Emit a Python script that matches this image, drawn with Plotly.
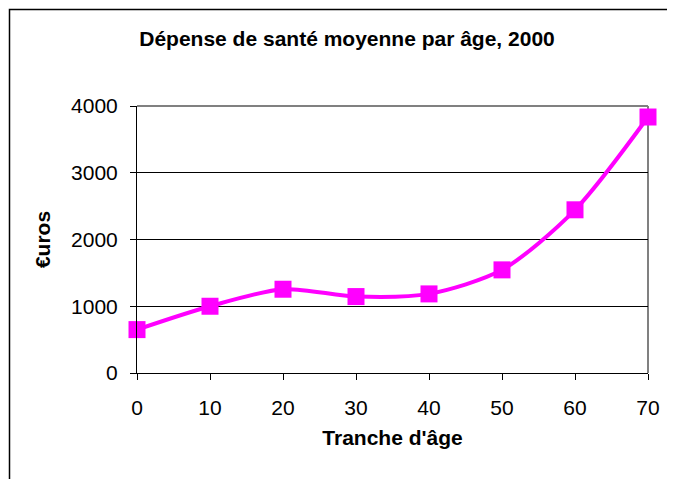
import plotly.graph_objects as go

ages = [0, 10, 20, 30, 40, 50, 60, 70]
depense = [650, 1000, 1255, 1145, 1185, 1545, 2445, 3835]
y_ticks = [0, 1000, 2000, 3000, 4000]

W, H = 675, 479
L, R, T, B = 129, 35, 98, 114
pw, ph = W - L - R, H - T - B

def px_x(p):
    return (p - L) / pw

def px_y(p):
    return (H - B - p) / ph

fig = go.Figure()
fig.add_trace(go.Scatter(
    x=ages, y=depense, mode="lines+markers",
    line=dict(color="#FF00FF", width=4, shape="spline", smoothing=0.8),
    marker=dict(symbol="square", size=17, color="#FF00FF"),
    cliponaxis=False, showlegend=False,
))

font = "Liberation Sans, Arial, sans-serif"
fig.update_layout(
    width=W, height=H,
    margin=dict(l=L, r=R, t=T, b=B),
    paper_bgcolor="white", plot_bgcolor="white",
    font=dict(family=font, size=21, color="black"),
    title=dict(text="<b>Dépense de santé moyenne par âge, 2000</b>",
               x=339 / W, xanchor="center", y=1 - 31 / H, yanchor="middle",
               font=dict(size=21, family=font, color="black")),
    xaxis=dict(range=[0, 70], tickvals=ages, ticktext=[str(a) for a in ages],
               showgrid=False, zeroline=False, showline=True, linecolor="black",
               linewidth=1, ticks="outside", ticklen=6, tickcolor="black",
               ticklabelstandoff=10,
               title=dict(text="<b>Tranche d'âge</b>", font=dict(size=21), standoff=12),
               tickfont=dict(size=21)),
    yaxis=dict(range=[0, 4000], tickvals=y_ticks, showgrid=True, gridcolor="black",
               gridwidth=1, zeroline=False, showline=True, linecolor="black",
               linewidth=1, ticks="outside", ticklen=6, tickcolor="black",
               ticklabelstandoff=8,
               title=dict(text="<b>€uros</b>", font=dict(size=21), standoff=14),
               tickfont=dict(size=21)),
    shapes=[
        dict(type="line", xref="paper", yref="paper", x0=0, x1=1, y0=1, y1=1,
             line=dict(color="#808080", width=2), layer="below"),
        dict(type="line", xref="paper", yref="paper", x0=1, x1=1, y0=0, y1=1,
             line=dict(color="#808080", width=2), layer="below"),
        dict(type="rect", xref="paper", yref="paper",
             x0=px_x(1.5), x1=px_x(700), y0=px_y(1.5), y1=px_y(520),
             line=dict(color="black", width=1.5)),
    ],
)

fig.write_html("out.html")
